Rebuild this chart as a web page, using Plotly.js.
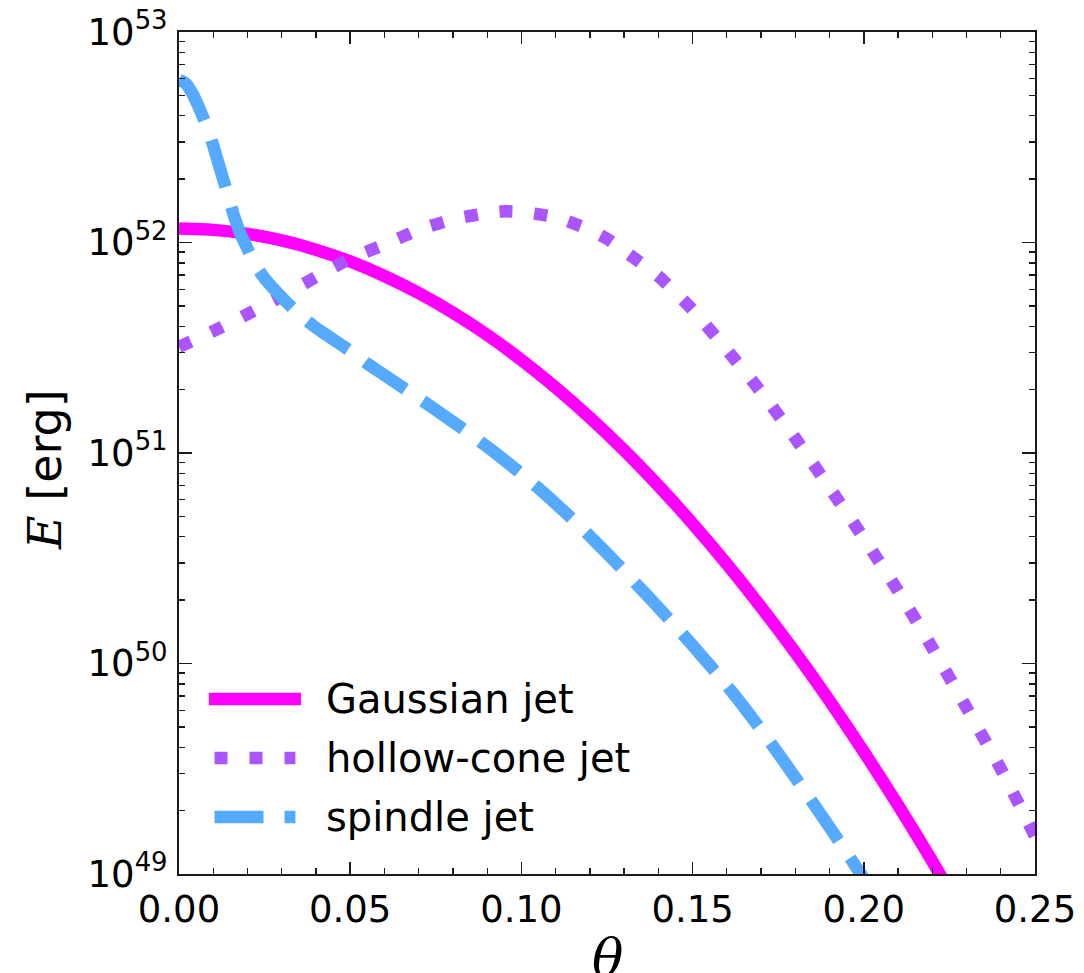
<!DOCTYPE html>
<html>
<head>
<meta charset="utf-8">
<script src="https://cdn.plot.ly/plotly-3.0.1.min.js"></script>
<style>
  html, body { margin: 0; padding: 0; background: #fff; }
  #chart { width: 1084px; height: 973px; }
</style>
</head>
<body>
<div id="chart"></div>
<script>
// Jet angle theta (rad) and log10 of the isotropic-equivalent energy E (erg)
const thetaGaussian = [0, 0.01, 0.02, 0.03, 0.04, 0.05, 0.06, 0.07, 0.08, 0.09, 0.10, 0.11,
  0.12, 0.13, 0.14, 0.15, 0.16, 0.17, 0.18, 0.19, 0.20, 0.21, 0.22, 0.225];
const logEGaussian = [52.066, 52.060, 52.041, 52.010, 51.966, 51.910, 51.841, 51.760, 51.667,
  51.561, 51.442, 51.311, 51.168, 51.013, 50.845, 50.665, 50.473, 50.268, 50.052, 49.823,
  49.581, 49.327, 49.061, 48.92];

const thetaHollow = [0, 0.01, 0.02, 0.03, 0.04, 0.05, 0.06, 0.07, 0.08, 0.09, 0.095, 0.10,
  0.11, 0.12, 0.125, 0.13, 0.14, 0.15, 0.16, 0.17, 0.18, 0.19, 0.20, 0.21, 0.22, 0.23,
  0.24, 0.25];
const logEHollow = [51.504, 51.579, 51.660, 51.745, 51.836, 51.923, 51.990, 52.060, 52.110,
  52.140, 52.148, 52.145, 52.120, 52.060, 52.018, 51.960, 51.840, 51.680, 51.490, 51.290,
  51.070, 50.835, 50.595, 50.345, 50.075, 49.790, 49.500, 49.180];

const thetaSpindle = [0, 0.002, 0.004, 0.006, 0.008, 0.010, 0.012, 0.014, 0.016, 0.018,
  0.020, 0.022, 0.025, 0.030, 0.035, 0.040, 0.045, 0.050, 0.055, 0.060, 0.065, 0.070,
  0.075, 0.080, 0.085, 0.090, 0.095, 0.100, 0.105, 0.110, 0.115, 0.120, 0.125, 0.130,
  0.135, 0.140, 0.145, 0.150, 0.155, 0.160, 0.165, 0.170, 0.175, 0.180, 0.185, 0.190,
  0.195, 0.200, 0.205];
const logESpindle = [52.772, 52.755, 52.705, 52.635, 52.555, 52.460, 52.350, 52.240, 52.130,
  52.040, 51.970, 51.900, 51.830, 51.740, 51.660, 51.595, 51.540, 51.485, 51.425, 51.370,
  51.315, 51.260, 51.205, 51.148, 51.090, 51.030, 50.967, 50.901, 50.833, 50.760, 50.684,
  50.605, 50.523, 50.439, 50.353, 50.266, 50.177, 50.086, 49.992, 49.895, 49.793, 49.685,
  49.573, 49.458, 49.341, 49.222, 49.101, 48.978, 48.855];

const seriesNames = ['Gaussian jet', 'hollow-cone jet', 'spindle jet'];
const seriesColors = ['#ff00ff', '#aa55ff', '#55aaff'];
const seriesDash = ['solid', '13px,22px', '49px,21px'];

const xTickVals = [0, 0.05, 0.10, 0.15, 0.20, 0.25];
const xTickText = ['0.00', '0.05', '0.10', '0.15', '0.20', '0.25'];
const yTickVals = [1e49, 1e50, 1e51, 1e52, 1e53];
const yTickText = ['10<sup>49</sup>', '10<sup>50</sup>', '10<sup>51</sup>', '10<sup>52</sup>', '10<sup>53</sup>'];

const toErg = arr => arr.map(v => Math.pow(10, v));
const xs = [thetaGaussian, thetaHollow, thetaSpindle];
const ys = [logEGaussian, logEHollow, logESpindle].map(toErg);

const LW = 12.5;
const traces = seriesNames.map((name, i) => ({
  x: xs[i], y: ys[i], name: name, type: 'scatter', mode: 'lines',
  line: { color: seriesColors[i], width: LW, dash: seriesDash[i], shape: 'spline', smoothing: 0.6 },
  showlegend: false, hoverinfo: 'skip'
}));

// Legend drawn as paper-space sample lines with text labels
const legendRowsY = [0.2078, 0.1378, 0.0677];
const legendShapes = seriesNames.map((n, i) => ({
  type: 'line', xref: 'paper', yref: 'paper',
  x0: i === 0 ? 0.035 : 0.0415, x1: i === 0 ? 0.1425 : 0.136,
  y0: legendRowsY[i], y1: legendRowsY[i],
  line: { color: seriesColors[i], width: LW, dash: seriesDash[i] }
}));
const legendText = seriesNames.map((n, i) => ({
  xref: 'paper', yref: 'paper', x: 0.1695, y: legendRowsY[i],
  xanchor: 'left', yanchor: 'middle', showarrow: false, text: n,
  font: { family: 'DejaVu Sans', size: 40, color: '#000' }
}));

// Axis titles as annotations so they sit exactly where wanted
const yTitle = {
  xref: 'paper', yref: 'paper', x: 0, y: 0.5, xanchor: 'center', yanchor: 'middle',
  xshift: -134, yshift: -17, textangle: -90, showarrow: false,
  text: '<span style="font-family:DejaVu Serif"><i>E</i></span> [erg]',
  font: { family: 'DejaVu Sans', size: 46, color: '#000' }
};
const xTitle = {
  xref: 'paper', yref: 'paper', x: 0.5, y: 0, xanchor: 'center', yanchor: 'middle',
  yshift: -84, showarrow: false,
  text: '<i>θ</i>',
  font: { family: 'DejaVu Serif', size: 52, color: '#000' }
};

const axisCommon = {
  showline: true, linecolor: '#1a1a1a', linewidth: 2, mirror: 'allticks',
  ticks: 'inside', tickcolor: '#1a1a1a', tickwidth: 1.6,
  showgrid: false, zeroline: false,
  tickfont: { family: 'DejaVu Sans', size: 37, color: '#000' }
};

const layout = {
  width: 1084, height: 973,
  margin: { l: 179, r: 49, t: 32, b: 99, pad: 0 },
  paper_bgcolor: '#fff', plot_bgcolor: '#fff',
  showlegend: false,
  xaxis: Object.assign({}, axisCommon, {
    range: [0, 0.25], tickmode: 'array', tickvals: xTickVals, ticktext: xTickText,
    ticklen: 12, ticklabelstandoff: 2,
    minor: { ticks: 'inside', ticklen: 6, tickwidth: 1.3, tickcolor: '#1a1a1a', dtick: 0.01, tick0: 0, showgrid: false }
  }),
  yaxis: Object.assign({}, axisCommon, {
    type: 'log', range: [49, 53], tickmode: 'array', tickvals: yTickVals, ticktext: yTickText,
    ticklen: 13, ticklabelstandoff: 2,
    minor: { ticks: 'inside', ticklen: 6, tickwidth: 1.3, tickcolor: '#1a1a1a', dtick: 'D1', showgrid: false }
  }),
  shapes: legendShapes,
  annotations: legendText.concat([yTitle, xTitle])
};

Plotly.newPlot('chart', traces, layout, { staticPlot: true, displayModeBar: false });
</script>
</body>
</html>
